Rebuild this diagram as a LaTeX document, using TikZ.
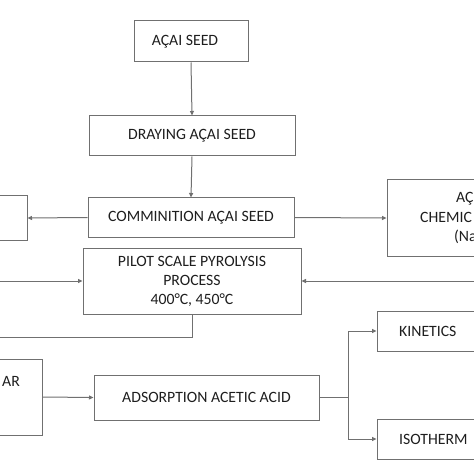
\documentclass[tikz,border=0pt]{standalone}
\usepackage{fontspec}
\setmainfont{Carlito}
\usetikzlibrary{arrows.meta}
\definecolor{linec}{HTML}{707070}
\definecolor{textc}{HTML}{1E1E1E}
\tikzset{
  box/.style={draw=linec, line width=1bp, rectangle, inner sep=0pt, text=textc, font=\fontsize{15.8}{19}\selectfont, align=center},
  lbl/.style={inner sep=0pt, text=textc, font=\fontsize{15.8}{19}\selectfont},
  conn/.style={draw=linec, line width=1bp},
  arr/.style={conn, -{Triangle[length=4.5bp,width=4bp]}}
}
\begin{document}
\begin{tikzpicture}[x=1bp,y=-1bp]
\useasboundingbox (0,0) rectangle (474,474);
\fill[white] (0,0) rectangle (474,474);
\clip (0,0) rectangle (474,474);
% nodes
\node[box, minimum width=114bp, minimum height=41bp] (seed) at (191,41.5) {};
\node[lbl] (seedt) at (185,42) {AÇAI SEED};
\node[box, minimum width=206bp, minimum height=40bp] (dry) at (192,136) {DRAYING AÇAI SEED};
\node[box, minimum width=206bp, minimum height=39bp] (comm) at (191,217.5) {COMMINITION AÇAI SEED};
\node[box, minimum width=47bp, minimum height=44bp] (lb1) at (3.5,218) {};
\node[box, minimum width=110bp, minimum height=76bp] (rb1) at (442,218) {};
\node[lbl, anchor=west] (rb1a) at (456,199) {AÇ};
\node[lbl, anchor=west] (rb1b) at (420,217.5) {CHEMIC};
\node[lbl, anchor=west] (rb1c) at (454,237) {(Na};
\node[box, minimum width=218bp, minimum height=66bp] (pilot) at (192,281) {PILOT SCALE PYROLYSIS\\PROCESS\\400°C, 450°C};
\node[box, minimum width=62bp, minimum height=76bp] (lb2) at (11,397) {};
\node[lbl, anchor=west] (lb2t) at (2,381) {AR};
\node[box, minimum width=225bp, minimum height=45bp] (ads) at (206.5,397.5) {ADSORPTION ACETIC ACID};
\node[box, minimum width=113bp, minimum height=40bp] (kin) at (433.5,331) {};
\node[lbl, anchor=west] (kint) at (399,331) {KINETICS};
\node[box, minimum width=113bp, minimum height=40bp] (iso) at (433.5,439) {};
\node[lbl, anchor=west] (isot) at (399,439) {ISOTHERM};
\coordinate (pin) at (0,281);
\coordinate (pinr) at (474,281);
\coordinate (pout) at (0,337);
\coordinate (jn) at (348,397.5);
% connectors
\draw[arr] (seed.south) -- (dry.north);
\draw[arr] (dry.south) -- (comm.north);
\draw[arr] (comm.west) -- (lb1.east);
\draw[arr] (comm.east) -- (rb1.west);
\draw[arr] (pin) -- (pilot.west);
\draw[arr] (pinr) -- (pilot.east);
\draw[conn] (pilot.south) -- (192,337) -- (pout);
\draw[arr] (lb2.east) -- (ads.west);
\draw[conn] (ads.east) -- (jn);
\draw[arr] (jn) |- (kin.west);
\draw[arr] (jn) |- (iso.west);
\end{tikzpicture}
\end{document}
